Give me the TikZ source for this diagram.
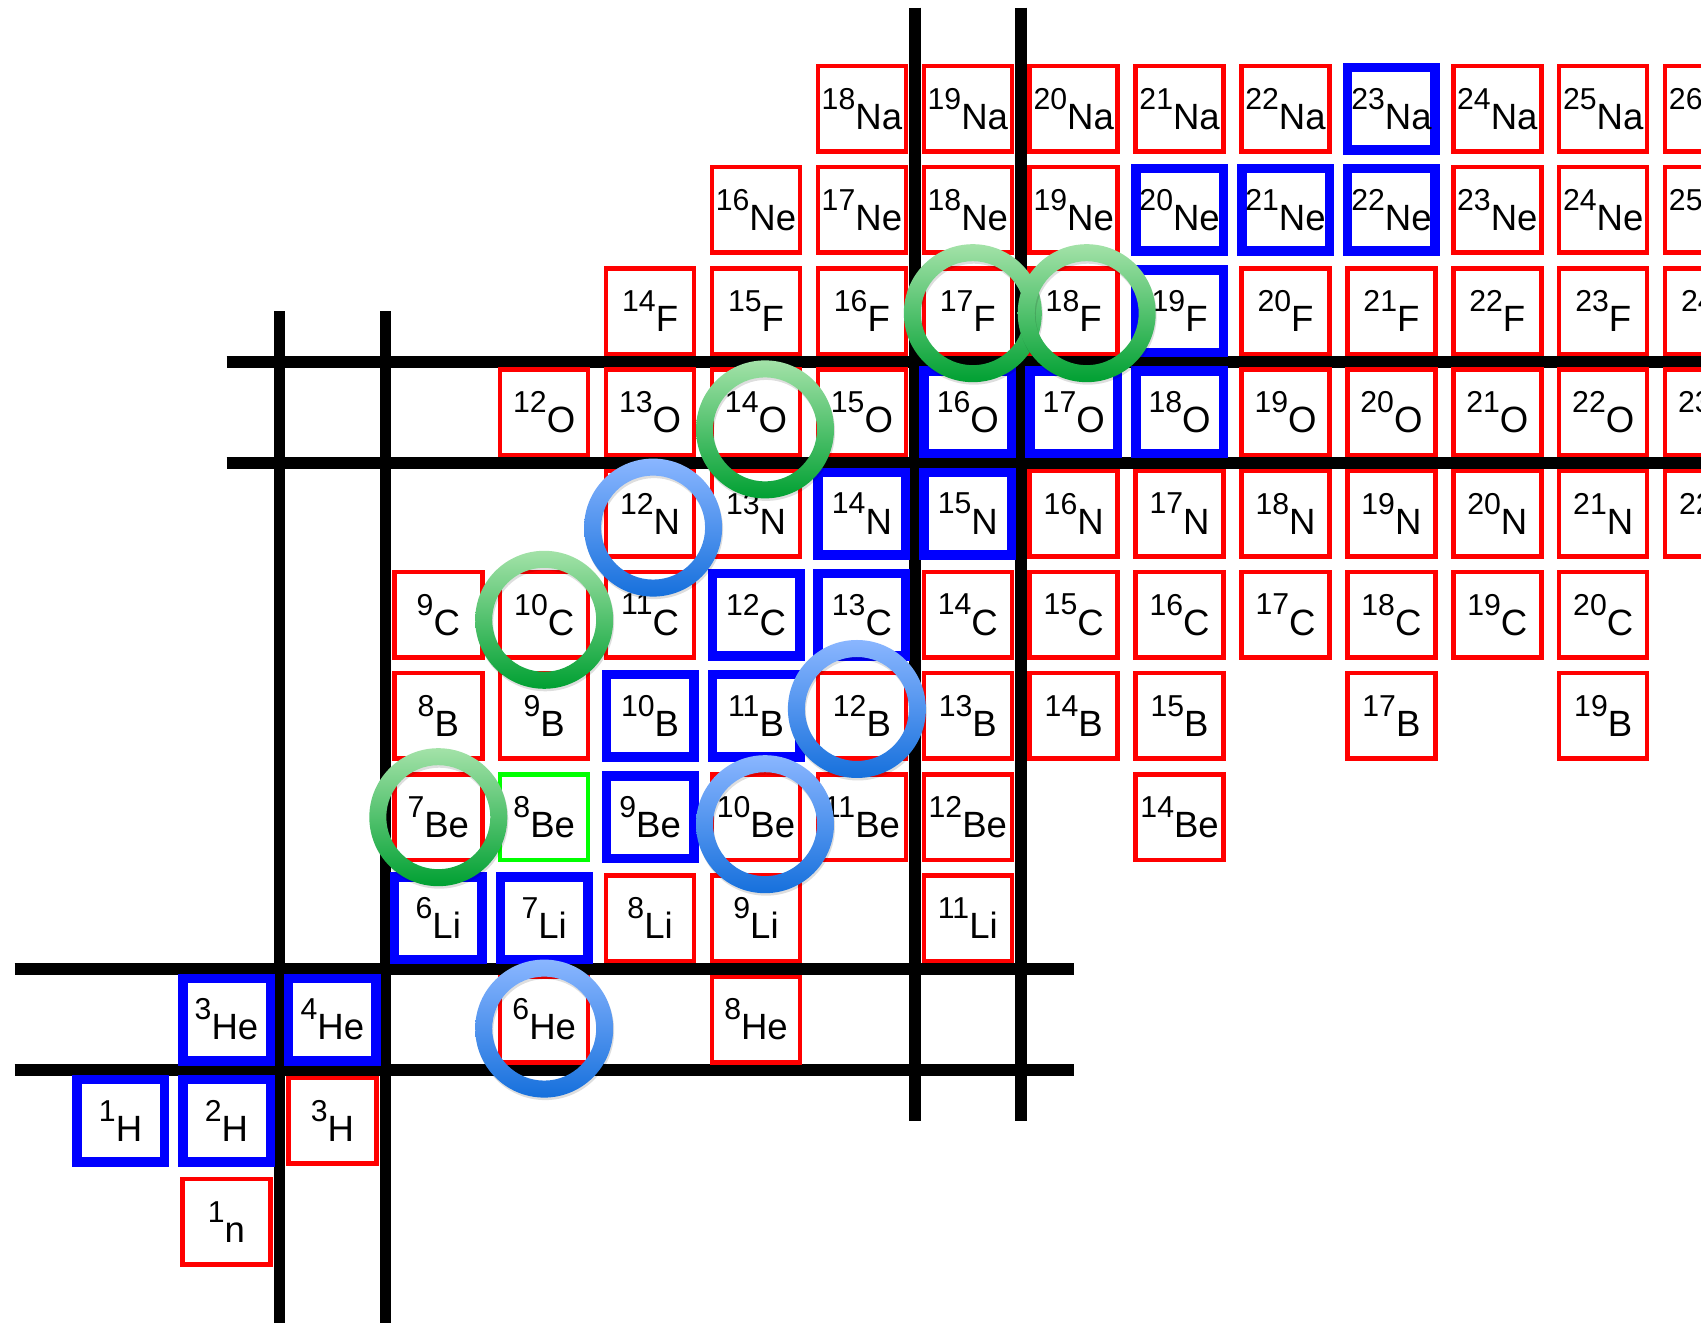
\documentclass[tikz,border=0pt]{standalone}
\usepackage{fontspec}
\setmainfont{Liberation Sans}
\usetikzlibrary{calc,backgrounds}
\definecolor{stblue}{HTML}{0000FF}
\definecolor{rared}{HTML}{FF0000}
\definecolor{ubgreen}{HTML}{00FF00}
\definecolor{ringgreenlt}{HTML}{A3E2A8}
\definecolor{ringgreendk}{HTML}{00A032}
\definecolor{ringbluelt}{HTML}{8AB6FF}
\definecolor{ringbluedk}{HTML}{1670DC}

% mass number as a superscript in front of the element symbol
\newcommand{\nucl}[2]{\raisebox{5.7pt}{\fontsize{8.6}{9}\selectfont #1}#2}

\begin{document}
\begin{tikzpicture}[
    x=1.059cm, y=1.012cm,
    font=\fontsize{10.4}{12}\selectfont,
    nuc/.style={rectangle, inner sep=0pt, fill=white},
    radio/.style={nuc, draw=rared, line width=0.045cm,
                  minimum width=0.88cm, minimum height=0.855cm},
    stable/.style={nuc, draw=stblue, line width=0.095cm,
                   minimum width=0.875cm, minimum height=0.825cm},
    unbound/.style={radio, draw=ubgreen},
    magic/.style={line width=0.117cm, black},
    ring/.style={even odd rule,
                 preaction={fill=black, fill opacity=0.13, even odd rule,
                            transform canvas={shift={(0.01cm,-0.025cm)}}}},
    greenring/.style={ring, top color=ringgreenlt, bottom color=ringgreendk},
    bluering/.style={ring, top color=ringbluelt, bottom color=ringbluedk},
]

    \useasboundingbox (-1.206cm,-1.01cm) rectangle ++(17.01cm,13.23cm);
    \clip (-1.206cm,-1.01cm) rectangle ++(17.01cm,13.23cm);

    % ============================================================
    %  MAGIC NUMBER LINES (N, Z = 2 and 8)
    % ============================================================
    \begin{scope}[on background layer]
        \draw[magic] (1.5,9) -- (1.5,-1.5);
        \draw[magic] (2.5,9) -- (2.5,-1.5);
        \draw[magic] (7.5,12) -- (7.5,1);
        \draw[magic] (8.5,12) -- (8.5,1);
        \draw[magic] (1,8.5) -- (16,8.5);
        \draw[magic] (1,7.5) -- (16,7.5);
        \draw[magic] (-1,2.5) -- (9,2.5);
        \draw[magic] (-1,1.5) -- (9,1.5);
    \end{scope}

    % ============================================================
    %  NUCLIDES  (x = N, y = Z)
    % ============================================================
    % Z = 0
    \node[radio] (n1) at (1,0) {\nucl{1}{n}};
    % Z = 1
    \node[stable] (H1) at (0,1) {\nucl{1}{H}};
    \node[stable] (H2) at (1,1) {\nucl{2}{H}};
    \node[radio] (H3) at (2,1) {\nucl{3}{H}};
    % Z = 2
    \node[stable] (He3) at (1,2) {\nucl{3}{He}};
    \node[stable] (He4) at (2,2) {\nucl{4}{He}};
    \node[radio] (He6) at (4,2) {\nucl{6}{He}};
    \node[radio] (He8) at (6,2) {\nucl{8}{He}};
    % Z = 3
    \node[stable] (Li6) at (3,3) {\nucl{6}{Li}};
    \node[stable] (Li7) at (4,3) {\nucl{7}{Li}};
    \node[radio] (Li8) at (5,3) {\nucl{8}{Li}};
    \node[radio] (Li9) at (6,3) {\nucl{9}{Li}};
    \node[radio] (Li11) at (8,3) {\nucl{11}{Li}};
    % Z = 4
    \node[radio] (Be7) at (3,4) {\nucl{7}{Be}};
    \node[unbound] (Be8) at (4,4) {\nucl{8}{Be}};
    \node[stable] (Be9) at (5,4) {\nucl{9}{Be}};
    \node[radio] (Be10) at (6,4) {\nucl{10}{Be}};
    \node[radio] (Be11) at (7,4) {\nucl{11}{Be}};
    \node[radio] (Be12) at (8,4) {\nucl{12}{Be}};
    \node[radio] (Be14) at (10,4) {\nucl{14}{Be}};
    % Z = 5
    \node[radio] (B8) at (3,5) {\nucl{8}{B}};
    \node[radio] (B9) at (4,5) {\nucl{9}{B}};
    \node[stable] (B10) at (5,5) {\nucl{10}{B}};
    \node[stable] (B11) at (6,5) {\nucl{11}{B}};
    \node[radio] (B12) at (7,5) {\nucl{12}{B}};
    \node[radio] (B13) at (8,5) {\nucl{13}{B}};
    \node[radio] (B14) at (9,5) {\nucl{14}{B}};
    \node[radio] (B15) at (10,5) {\nucl{15}{B}};
    \node[radio] (B17) at (12,5) {\nucl{17}{B}};
    \node[radio] (B19) at (14,5) {\nucl{19}{B}};
    % Z = 6
    \node[radio] (C9) at (3,6) {\nucl{9}{C}};
    \node[radio] (C10) at (4,6) {\nucl{10}{C}};
    \node[radio] (C11) at (5,6) {\nucl{11}{C}};
    \node[stable] (C12) at (6,6) {\nucl{12}{C}};
    \node[stable] (C13) at (7,6) {\nucl{13}{C}};
    \node[radio] (C14) at (8,6) {\nucl{14}{C}};
    \node[radio] (C15) at (9,6) {\nucl{15}{C}};
    \node[radio] (C16) at (10,6) {\nucl{16}{C}};
    \node[radio] (C17) at (11,6) {\nucl{17}{C}};
    \node[radio] (C18) at (12,6) {\nucl{18}{C}};
    \node[radio] (C19) at (13,6) {\nucl{19}{C}};
    \node[radio] (C20) at (14,6) {\nucl{20}{C}};
    % Z = 7
    \node[radio] (N12) at (5,7) {\nucl{12}{N}};
    \node[radio] (N13) at (6,7) {\nucl{13}{N}};
    \node[stable] (N14) at (7,7) {\nucl{14}{N}};
    \node[stable] (N15) at (8,7) {\nucl{15}{N}};
    \node[radio] (N16) at (9,7) {\nucl{16}{N}};
    \node[radio] (N17) at (10,7) {\nucl{17}{N}};
    \node[radio] (N18) at (11,7) {\nucl{18}{N}};
    \node[radio] (N19) at (12,7) {\nucl{19}{N}};
    \node[radio] (N20) at (13,7) {\nucl{20}{N}};
    \node[radio] (N21) at (14,7) {\nucl{21}{N}};
    \node[radio] (N22) at (15,7) {\nucl{22}{N}};
    % Z = 8
    \node[radio] (O12) at (4,8) {\nucl{12}{O}};
    \node[radio] (O13) at (5,8) {\nucl{13}{O}};
    \node[radio] (O14) at (6,8) {\nucl{14}{O}};
    \node[radio] (O15) at (7,8) {\nucl{15}{O}};
    \node[stable] (O16) at (8,8) {\nucl{16}{O}};
    \node[stable] (O17) at (9,8) {\nucl{17}{O}};
    \node[stable] (O18) at (10,8) {\nucl{18}{O}};
    \node[radio] (O19) at (11,8) {\nucl{19}{O}};
    \node[radio] (O20) at (12,8) {\nucl{20}{O}};
    \node[radio] (O21) at (13,8) {\nucl{21}{O}};
    \node[radio] (O22) at (14,8) {\nucl{22}{O}};
    \node[radio] (O23) at (15,8) {\nucl{23}{O}};
    % Z = 9
    \node[radio] (F14) at (5,9) {\nucl{14}{F}};
    \node[radio] (F15) at (6,9) {\nucl{15}{F}};
    \node[radio] (F16) at (7,9) {\nucl{16}{F}};
    \node[radio] (F17) at (8,9) {\nucl{17}{F}};
    \node[radio] (F18) at (9,9) {\nucl{18}{F}};
    \node[stable] (F19) at (10,9) {\nucl{19}{F}};
    \node[radio] (F20) at (11,9) {\nucl{20}{F}};
    \node[radio] (F21) at (12,9) {\nucl{21}{F}};
    \node[radio] (F22) at (13,9) {\nucl{22}{F}};
    \node[radio] (F23) at (14,9) {\nucl{23}{F}};
    \node[radio] (F24) at (15,9) {\nucl{24}{F}};
    % Z = 10
    \node[radio] (Ne16) at (6,10) {\nucl{16}{Ne}};
    \node[radio] (Ne17) at (7,10) {\nucl{17}{Ne}};
    \node[radio] (Ne18) at (8,10) {\nucl{18}{Ne}};
    \node[radio] (Ne19) at (9,10) {\nucl{19}{Ne}};
    \node[stable] (Ne20) at (10,10) {\nucl{20}{Ne}};
    \node[stable] (Ne21) at (11,10) {\nucl{21}{Ne}};
    \node[stable] (Ne22) at (12,10) {\nucl{22}{Ne}};
    \node[radio] (Ne23) at (13,10) {\nucl{23}{Ne}};
    \node[radio] (Ne24) at (14,10) {\nucl{24}{Ne}};
    \node[radio] (Ne25) at (15,10) {\nucl{25}{Ne}};
    % Z = 11
    \node[radio] (Na18) at (7,11) {\nucl{18}{Na}};
    \node[radio] (Na19) at (8,11) {\nucl{19}{Na}};
    \node[radio] (Na20) at (9,11) {\nucl{20}{Na}};
    \node[radio] (Na21) at (10,11) {\nucl{21}{Na}};
    \node[radio] (Na22) at (11,11) {\nucl{22}{Na}};
    \node[stable] (Na23) at (12,11) {\nucl{23}{Na}};
    \node[radio] (Na24) at (13,11) {\nucl{24}{Na}};
    \node[radio] (Na25) at (14,11) {\nucl{25}{Na}};
    \node[radio] (Na26) at (15,11) {\nucl{26}{Na}};

    % ============================================================
    %  HIGHLIGHT RINGS
    % ============================================================
    \shade[greenring] (Be7) circle[radius=0.69cm] circle[radius=0.52cm];
    \shade[greenring] ($(C10)+(0,-0.05cm)$) circle[radius=0.69cm] circle[radius=0.52cm];
    \shade[greenring] ($(O14)+(0.09cm,-0.17cm)$) circle[radius=0.69cm] circle[radius=0.52cm];
    \shade[greenring] ($(F17)+(0.05cm,-0.02cm)$) circle[radius=0.69cm] circle[radius=0.52cm];
    \shade[greenring] ($(F18)+(0.13cm,-0.02cm)$) circle[radius=0.69cm] circle[radius=0.52cm];
    \shade[bluering] ($(He6)+(0,-0.09cm)$) circle[radius=0.69cm] circle[radius=0.52cm];
    \shade[bluering] ($(Be10)+(0.09cm,-0.07cm)$) circle[radius=0.69cm] circle[radius=0.52cm];
    \shade[bluering] ($(B12)+(-0.05cm,0.07cm)$) circle[radius=0.69cm] circle[radius=0.52cm];
    \shade[bluering] ($(N12)+(0.03cm,-0.14cm)$) circle[radius=0.69cm] circle[radius=0.52cm];

\end{tikzpicture}
\end{document}
